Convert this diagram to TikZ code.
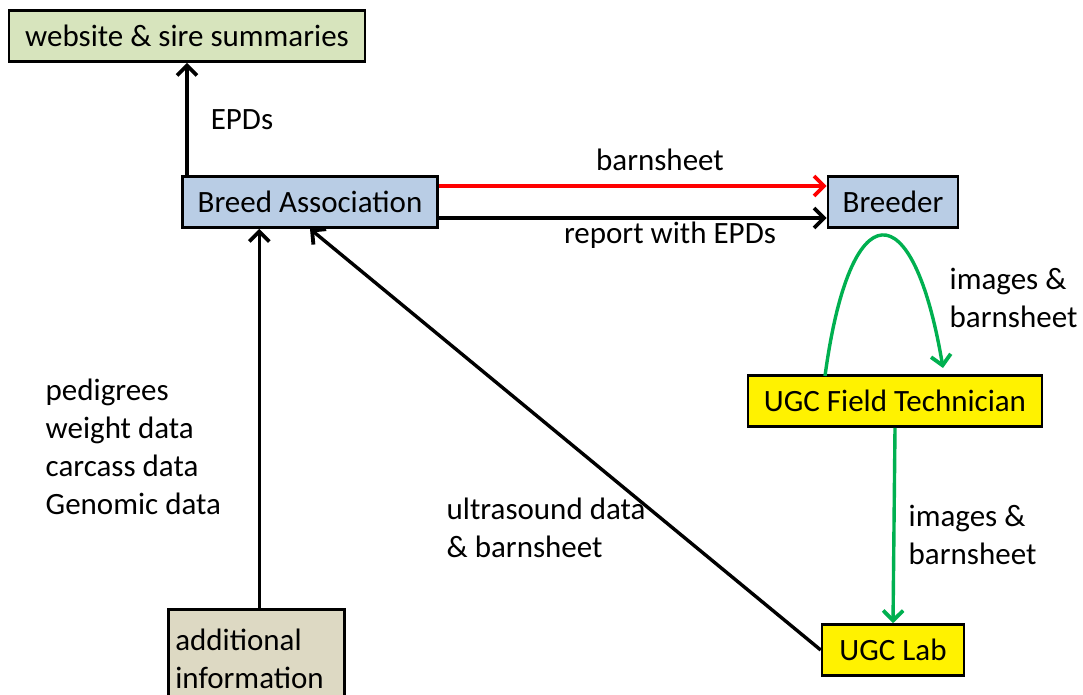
\documentclass[tikz,border=0pt]{standalone}
\usepackage{fontspec}
\setmainfont{Carlito}
\usetikzlibrary{arrows.meta}
\definecolor{boxgreen}{RGB}{215,228,189}
\definecolor{boxblue}{RGB}{185,205,229}
\definecolor{boxtan}{RGB}{221,217,195}
\definecolor{arrowgreen}{RGB}{0,176,80}
\begin{document}
\begin{tikzpicture}[x=1pt, y=-1pt, line width=3.4pt,
    >={Straight Barb[length=10pt,width=20pt,line width=3.8pt]},
    main/.style = {draw, line width=2.6pt, minimum height=51pt, inner sep=0pt,
                   font=\fontsize{31}{38}\selectfont},
    lbl/.style = {font=\fontsize{31}{38}\selectfont, align=left, inner sep=0pt},
    flow/.style = {->, arrowgreen}]
 			\clip (0,0) rectangle (1083,694);
 			\fill[white] (0,0) rectangle (1083,694);

 			\node[main, fill=boxgreen, minimum width=356pt] (web) at (187,36) {website \& sire summaries};
 			\node[main, fill=boxblue, minimum width=255pt] (assoc) at (310,202) {Breed Association};
 			\node[main, fill=boxblue, minimum width=130pt] (breeder) at (893,202) {Breeder};
 			\node[main, fill=yellow, minimum width=294pt] (tech) at (895,401) {UGC Field Technician};
 			\node[main, fill=yellow, minimum width=142pt] (lab) at (893,650) {UGC Lab};
 			\node[main, fill=boxtan, minimum width=176pt, minimum height=110pt, anchor=north west,
 			      align=left, text width=162pt, text depth=50pt, inner sep=7pt] (info) at (167,608) {additional\\information};

 			\node[lbl] (epds) at (242,120) {EPDs};
 			\node[lbl] (barn) at (660,160) {barnsheet};
 			\node[lbl] (report) at (670,235) {report with EPDs};
 			\node[lbl, anchor=west] (imgs1) at (948,298) {images \&\\barnsheet};
 			\node[lbl, anchor=west] (imgs2) at (907,535) {images \&\\barnsheet};
 			\node[lbl, anchor=west] (ultra) at (445,528) {ultrasound data\\\& barnsheet};
 			\node[lbl, anchor=west] (data) at (44,447) {pedigrees\\weight data\\carcass data\\Genomic data};

 			\coordinate (up) at (825,376);
 			\coordinate (down) at (943,368);

 			\draw[->] (web.south |- assoc.north) -- (web.south);
 			\draw[->, red] ([yshift=16pt]assoc.east) -- ([yshift=16pt]assoc.east -| breeder.west);
 			\draw[->] ([yshift=-16pt]assoc.east) -- ([yshift=-16pt]assoc.east -| breeder.west);
 			\draw[flow] (up) .. controls (850,190) and (913,190) .. (down);
 			\draw[flow] (tech.south) -- (lab.north);
 			\draw[->] (lab.west) -- (assoc.south);
 			\draw[->] ([xshift=3pt]info.north) -- ([xshift=3pt]info.north |- assoc.south);
 		\end{tikzpicture}
\end{document}
